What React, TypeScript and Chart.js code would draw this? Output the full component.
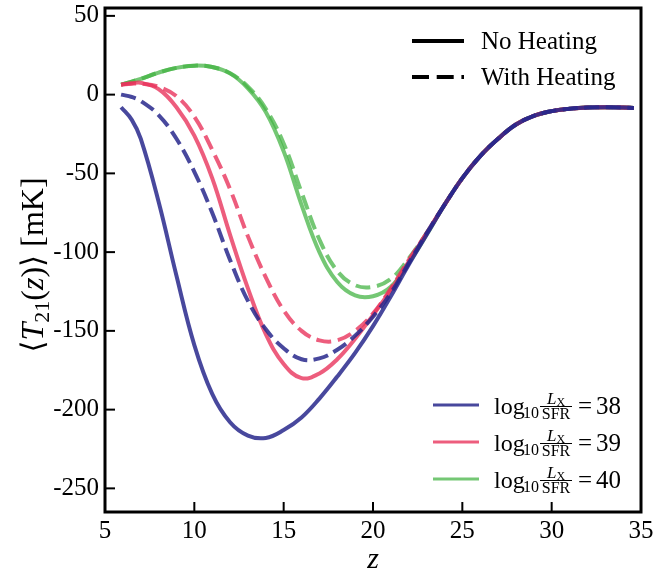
import React, { useEffect, useRef } from 'react';
import { Chart, registerables } from 'chart.js';

Chart.register(...registerables);

// ---- data ----
const Z = [5.9, 6.5, 7, 8, 9, 10, 11, 12, 13, 14, 15, 16, 17, 18, 19, 20, 21, 22, 23, 24, 25, 26, 27, 28, 29, 30, 31, 32, 33, 34, 34.6];

const BLUE_SOLID = [-8, -16, -28, -68, -115, -159, -190, -208, -216.5, -218, -213, -205, -193, -179, -164, -147, -128, -108, -89, -70, -53, -39, -28, -19, -13.5, -10.5, -9, -8.2, -8, -8.2, -8.5];
const BLUE_DASHED = [0, -1.5, -4, -13, -28, -49, -75, -105, -131, -149, -161, -168, -167.5, -162, -153, -141, -126, -107, -88, -70, -53, -39, -28, -19, -13.5, -10.5, -9, -8.2, -8, -8.2, -8.5];
const PINK_SOLID = [6.3, 7.2, 7.5, 3.5, -8, -26, -53, -89, -123, -152, -171, -180, -177, -168, -155, -140, -124, -106, -88, -70, -53, -39, -28, -19, -13.5, -10.5, -9, -8.2, -8, -8.2, -8.5];
const PINK_DASHED = [6.3, 6.9, 7, 5, -1, -14, -35, -60, -90, -116, -137, -150, -156, -156, -150, -139, -123, -105, -88, -70, -53, -39, -28, -19, -13.5, -10.5, -9, -8.2, -8, -8.2, -8.5];
const GREEN_SOLID = [6.3, 8.3, 10, 14, 17, 18.4, 17.5, 13.5, 4, -11, -36, -70, -100, -119, -127.5, -128, -122, -107, -89, -70, -53, -39, -28, -19, -13.5, -10.5, -9, -8.2, -8, -8.2, -8.5];
const GREEN_DASHED = [6.3, 8.3, 10, 14, 17, 18.4, 17.5, 13.5, 5, -9, -31, -62, -92, -112, -121, -122, -117, -104, -88, -70, -53, -39, -28, -19, -13.5, -10.5, -9, -8.2, -8, -8.2, -8.5];

const X_TICKS = [5, 10, 15, 20, 25, 30, 35];
const Y_TICKS = [-250, -200, -150, -100, -50, 0, 50];
const LX_VALUES = ['38', '39', '40'];
const STYLE_LABELS = ['No Heating', 'With Heating'];

// ---- style ----
const BLUE = 'rgba(40,40,140,0.85)';
const PINK = 'rgba(232,52,92,0.8)';
const GREEN = 'rgba(70,180,70,0.75)';
const COLORS = [BLUE, PINK, GREEN];
const SERIF = '"Liberation Serif", "DejaVu Serif", serif';
const DASH = [15, 6.5];

function pts(ys: number[]) {
  return Z.map((z, i) => ({ x: z, y: ys[i] }));
}

function ds(ys: number[], color: string, dashed: boolean) {
  return {
    data: pts(ys),
    borderColor: color,
    backgroundColor: color,
    borderWidth: 4,
    borderDash: dashed ? DASH : [],
    pointRadius: 0,
    fill: false,
    tension: 0.4,
  };
}

const decor = {
  id: 'decor',
  afterDatasetsDraw(chart: any) {
    const { ctx, chartArea: a, scales } = chart;
    const xs = scales.x;
    const ys = scales.y;
    ctx.save();
    ctx.strokeStyle = '#000';
    ctx.fillStyle = '#000';
    ctx.setLineDash([]);
    // inward ticks
    ctx.lineWidth = 2;
    Y_TICKS.forEach((v) => {
      const p = ys.getPixelForValue(v);
      ctx.beginPath();
      ctx.moveTo(a.left, p);
      ctx.lineTo(a.left + 10, p);
      ctx.stroke();
    });
    X_TICKS.forEach((v) => {
      const p = xs.getPixelForValue(v);
      ctx.beginPath();
      ctx.moveTo(p, a.bottom);
      ctx.lineTo(p, a.bottom - 10);
      ctx.stroke();
    });
    // spines
    ctx.lineWidth = 3;
    ctx.strokeRect(a.left, a.top, a.right - a.left, a.bottom - a.top);

    // x title
    ctx.font = `italic 30px ${SERIF}`;
    ctx.textAlign = 'center';
    ctx.textBaseline = 'alphabetic';
    ctx.fillText('z', (a.left + a.right) / 2, 568);

    // y title (rotated, composed)
    const parts: [string, string, number][] = [
      ['\u27E8', `31px ${SERIF}`, 0],
      ['T', `italic 32px ${SERIF}`, 0],
      ['21', `22px ${SERIF}`, 6],
      ['(', `32px ${SERIF}`, 0],
      ['z', `italic 32px ${SERIF}`, 0],
      [')', `32px ${SERIF}`, 0],
      ['\u27E9', `31px ${SERIF}`, 0],
      [' [mK]', `32px ${SERIF}`, 0],
    ];
    let total = 0;
    const widths = parts.map(([t, f]) => {
      ctx.font = f;
      const w = ctx.measureText(t).width;
      total += w;
      return w;
    });
    ctx.save();
    ctx.translate(43, (a.top + a.bottom) / 2 + 5);
    ctx.rotate(-Math.PI / 2);
    ctx.textAlign = 'left';
    let cx = -total / 2;
    parts.forEach(([t, f, dy], i) => {
      ctx.font = f;
      ctx.fillText(t, cx, dy);
      cx += widths[i];
    });
    ctx.restore();

    // style legend (top right)
    ctx.textAlign = 'left';
    ctx.lineWidth = 4;
    const styleRows = [41, 77];
    STYLE_LABELS.forEach((lab, i) => {
      const y = styleRows[i];
      ctx.setLineDash(i === 0 ? [] : [17, 7.7]);
      ctx.beginPath();
      ctx.moveTo(412, y);
      ctx.lineTo(464, y);
      ctx.stroke();
      ctx.setLineDash([]);
      ctx.font = `25px ${SERIF}`;
      ctx.fillText(lab, 481, y + 8);
    });

    // Lx legend (bottom right)
    const rows = [405, 442, 479];
    LX_VALUES.forEach((val, i) => {
      const y = rows[i];
      ctx.strokeStyle = COLORS[i];
      ctx.lineWidth = 3;
      ctx.beginPath();
      ctx.moveTo(433, y);
      ctx.lineTo(479, y);
      ctx.stroke();
      const base = y + 9;
      ctx.fillStyle = '#000';
      ctx.font = `24px ${SERIF}`;
      ctx.fillText('log', 494, base);
      ctx.font = `16px ${SERIF}`;
      ctx.fillText('10', 523, base + 4);
      // fraction
      const fx = 540;
      const fw = 32;
      const barY = y + 1.5;
      ctx.strokeStyle = '#000';
      ctx.lineWidth = 1;
      ctx.beginPath();
      ctx.moveTo(fx, barY);
      ctx.lineTo(fx + fw, barY);
      ctx.stroke();
      ctx.font = `italic 17px ${SERIF}`;
      const wL = ctx.measureText('L').width;
      ctx.font = `12px ${SERIF}`;
      const wX = ctx.measureText('X').width;
      const nx = fx + (fw - wL - wX) / 2;
      ctx.font = `italic 17px ${SERIF}`;
      ctx.fillText('L', nx, barY - 2.5);
      ctx.font = `12px ${SERIF}`;
      ctx.fillText('X', nx + wL, barY - 0.5);
      ctx.font = `16px ${SERIF}`;
      ctx.textAlign = 'center';
      ctx.fillText('SFR', fx + fw / 2, barY + 12.5);
      ctx.textAlign = 'left';
      ctx.font = `25px ${SERIF}`;
      ctx.fillText('=', 578, base);
      ctx.fillText(val, 596, base);
    });
    ctx.restore();
  },
};

export default function App() {
  const ref = useRef<HTMLCanvasElement | null>(null);
  useEffect(() => {
    document.body.style.margin = '0';
    const canvas = ref.current;
    if (!canvas) return;
    const chart = new Chart(canvas, {
      type: 'line',
      data: {
        datasets: [
          ds(BLUE_SOLID, BLUE, false),
          ds(BLUE_DASHED, BLUE, true),
          ds(PINK_SOLID, PINK, false),
          ds(PINK_DASHED, PINK, true),
          ds(GREEN_SOLID, GREEN, false),
          ds(GREEN_DASHED, GREEN, true),
        ],
      },
      options: {
        animation: false,
        responsive: false,
        devicePixelRatio: 1,
        layout: { padding: { left: 0, right: 26, top: 8, bottom: 0 } },
        plugins: { legend: { display: false }, tooltip: { enabled: false } },
        scales: {
          x: {
            type: 'linear',
            min: 5,
            max: 35,
            afterFit: (s: any) => {
              s.height = 60;
              s.paddingLeft = 0;
              s.paddingRight = 0;
            },
            afterBuildTicks: (s: any) => { s.ticks = X_TICKS.map((v) => ({ value: v })); },
            grid: { display: false, drawTicks: false },
            border: { display: false },
            ticks: {
              padding: 4,
              color: '#000',
              font: { family: SERIF, size: 25 },
              maxRotation: 0,
              callback: (v: any) => String(v),
            },
          },
          y: {
            type: 'linear',
            min: -265,
            max: 55,
            afterFit: (s: any) => {
              s.width = 105;
              s.paddingTop = 0;
              s.paddingBottom = 0;
            },
            afterBuildTicks: (s: any) => { s.ticks = Y_TICKS.map((v) => ({ value: v })); },
            grid: { display: false, drawTicks: false },
            border: { display: false },
            ticks: {
              padding: 6,
              color: '#000',
              font: { family: SERIF, size: 25 },
              callback: (v: any) => String(v),
            },
          },
        },
      },
      plugins: [decor],
    });
    return () => chart.destroy();
  }, []);
  return (
    <div style={{ position: 'absolute', left: 0, top: 0, width: 667, height: 572, background: '#fff' }}>
      <canvas ref={ref} width={667} height={572} />
    </div>
  );
}
